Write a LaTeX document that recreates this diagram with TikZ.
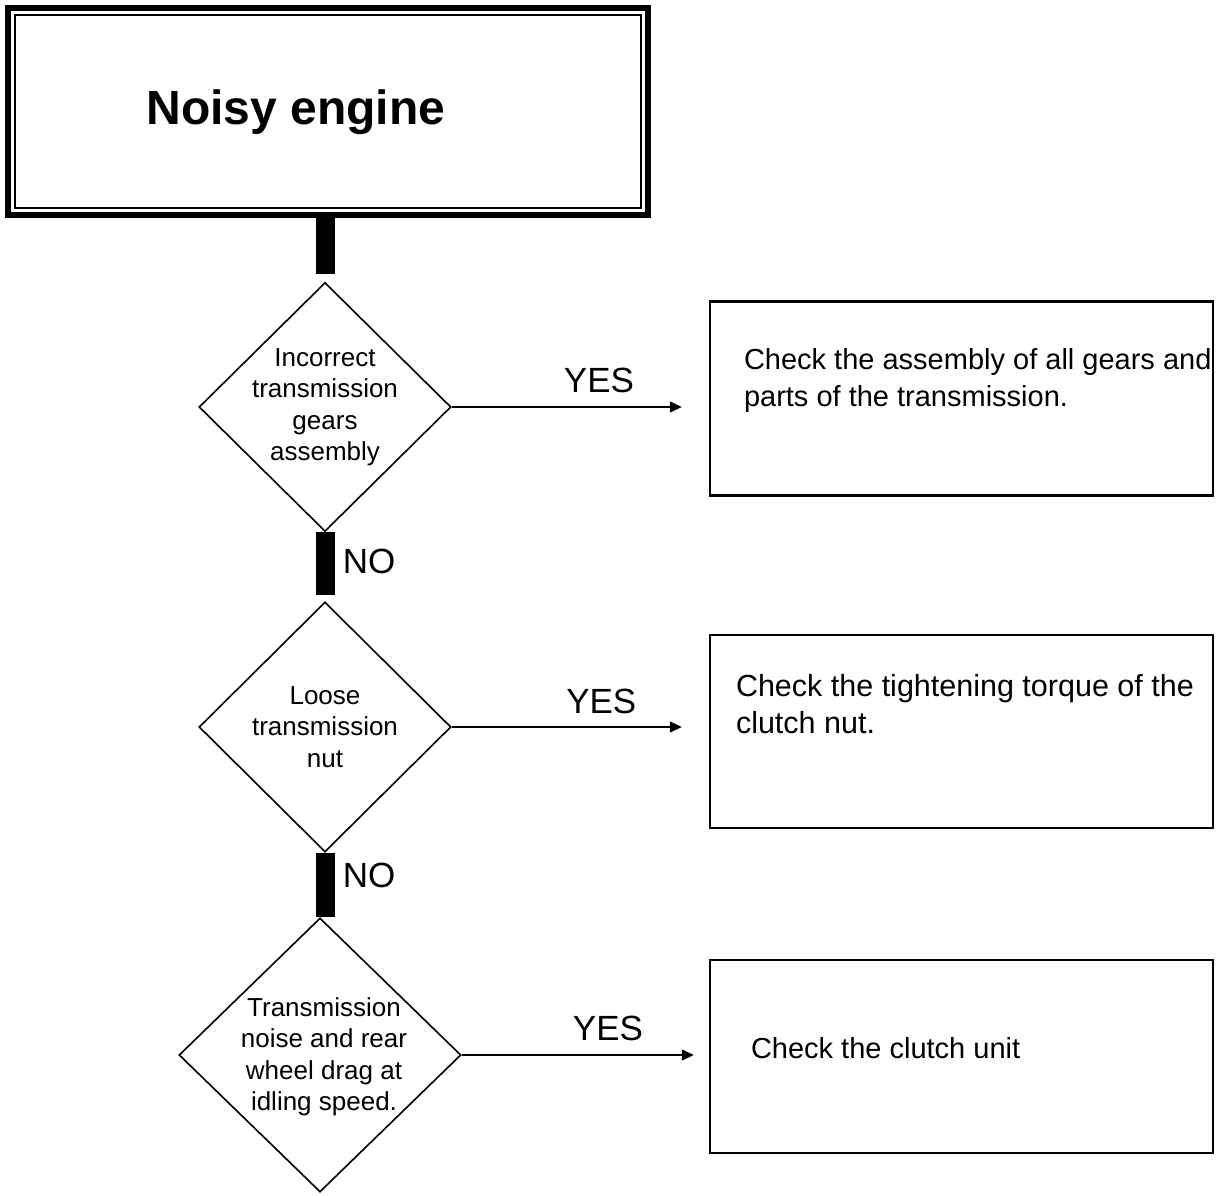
\documentclass[tikz,border=0pt]{standalone}
\usepackage{fontspec}
\setmainfont{Liberation Sans}
\usetikzlibrary{shapes.geometric,arrows.meta,positioning}

\begin{document}
\begin{tikzpicture}[x=1pt,y=-1pt,
  decision/.style={draw,diamond,line width=1.6pt,inner sep=0pt,minimum width=252pt,minimum height=249pt},
  qtext/.style={align=center,inner sep=0pt,font=\fontsize{26}{31.5}\selectfont},
  action/.style={draw,line width=2.4pt,inner sep=0pt,minimum width=503pt,minimum height=194pt},
  atext/.style={align=left,anchor=north west,inner sep=0pt,font=\fontsize{29}{37}\selectfont},
  bar/.style={line width=19pt},
  yes/.style={line width=1.2pt,-{Triangle[length=12pt,width=11pt]}},
  answer/.style={inner sep=0pt,font=\fontsize{35}{35}\selectfont}]

\useasboundingbox (0,0) rectangle (1223,1196);

% top box, thick frame with a thin one inside
\node [draw,line width=6pt,inner sep=0pt,minimum width=640pt,minimum height=207pt] (engine) at (328,111.5) {};
\draw [line width=1.2pt] ([shift={(10,10)}]engine.north west) rectangle ([shift={(-10,-10)}]engine.south east);
\node [font=\fontsize{48}{48}\selectfont\bfseries] (title) at (296,112) {Noisy engine};

% questions
\node [decision] (q1) at (325,407) {};
\node [qtext] (q1text) at (q1) {Incorrect\\transmission\\gears\\assembly};
\node [decision,minimum height=250pt] (q2) at (325,727) {};
\node [qtext] (q2text) at (q2) {Loose\\transmission\\nut};
\node [decision,minimum width=282pt,minimum height=274pt] (q3) at (320,1055) {};
\node [qtext] (q3text) at (324,1057) {Transmission\\noise and rear\\wheel drag at\\idling speed.};

% answers
\node [action] (a1) at (961.5,398.5) {};
\node [atext] (a1text) at ([shift={(35,48)}]a1.north west) {Check the assembly of all gears and\\parts of the transmission.};
\node [action,minimum height=193pt] (a2) at (961.5,731.5) {};
\node [atext,font=\fontsize{30.5}{37}\selectfont] (a2text) at ([shift={(27,40)}]a2.north west) {Check the tightening torque of the\\clutch nut.};
\node [action,minimum height=193pt] (a3) at (961.5,1056.5) {};
\node [atext] (a3text) at ([shift={(42,78)}]a3.north west) {Check the clutch unit};

% NO bars
\draw [bar] (engine.south -| q1.north) -- ([yshift=8pt]q1.north);
\draw [bar] (q1.south) -- ([yshift=6pt]q2.north);
\draw [bar] (q2.south) -- (q2.south |- q3.north);
\node [answer] (no1) at (369,561) {NO};
\node [answer] (no2) at (369,875) {NO};

% YES arrows
\draw [yes] (q1.east) -- ([xshift=-27pt]q1.east -| a1.west) node [answer,pos=0.64,anchor=south,yshift=14pt] (yes1) {YES};
\draw [yes] (q2.east) -- ([xshift=-27pt]q2.east -| a2.west) node [answer,pos=0.65,anchor=south,yshift=13pt] (yes2) {YES};
\draw [yes] (q3.east) -- ([xshift=-15pt]q3.east -| a3.west) node [answer,pos=0.63,anchor=south,yshift=14pt] (yes3) {YES};
\end{tikzpicture}
\end{document}
